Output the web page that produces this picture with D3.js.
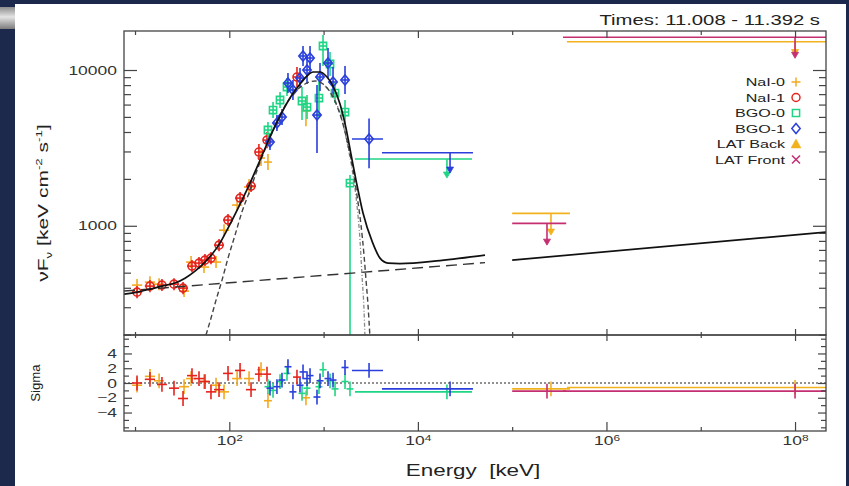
<!DOCTYPE html>
<html>
<head>
<meta charset="utf-8">
<script src="https://cdn.jsdelivr.net/npm/d3@7"></script>
<style>
  html, body { margin: 0; padding: 0; background: #1c294d; }
  svg { display: block; }
</style>
</head>
<body>
<svg id="chart" width="849" height="486"></svg>
<script>
// Spectral bins per detector: [energy keV, binLo, binHi, nuFnu, nuFnuLo, nuFnuHi, residual sigma]
const nai0 = [
  [10.5, 9.3, 11.9, 416, 381, 455, -0.3],
  [14.4, 12.7, 16.3, 435, 398, 475, 0.9],
  [18.0, 15.9, 20.3, 422, 386, 461, 0.3],
  [33.1, 29.3, 37.4, 381, 349, 416, -0.5],
  [39.3, 34.8, 44.4, 585, 535, 639, 0.6],
  [53.9, 47.7, 60.9, 543, 497, 593, 0.2],
  [72.3, 64.0, 81.7, 585, 535, 639, -0.3],
  [87.9, 77.8, 99.3, 937, 857, 1024, -1.2],
  [121, 107, 137, 1358, 1242, 1484, 0.6],
  [162, 143, 183, 1775, 1576, 1999, 0.6],
  [217, 197, 239, 2723, 2418, 3066, 1.8],
  [257, 233, 283, 2564, 2277, 2887, -2.4],
  [650, 590, 716, 5458, 4360, 6700, -2.0]
];
const nai1 = [
  [10.5, 9.3, 11.9, 375, 343, 410, 0.0],
  [14.4, 12.7, 16.3, 410, 375, 448, 0.5],
  [19.3, 17.1, 21.8, 416, 381, 455, -0.2],
  [25.9, 22.9, 29.3, 422, 386, 461, -0.7],
  [32.3, 28.6, 36.5, 398, 364, 435, -2.1],
  [40.2, 35.6, 45.4, 551, 504, 602, 1.0],
  [47.7, 42.2, 53.9, 576, 527, 630, 0.6],
  [55.2, 48.8, 62.4, 602, 551, 658, 0.2],
  [63.9, 56.5, 72.2, 620, 567, 678, -1.2],
  [77.8, 68.8, 87.9, 751, 687, 821, -0.9],
  [96.9, 85.8, 109, 1088, 995, 1189, 1.3],
  [130, 115, 147, 1506, 1378, 1646, 1.7],
  [170, 150, 192, 1798, 1645, 1965, -0.9],
  [206, 187, 227, 2974, 2641, 3349, 1.2],
  [251, 228, 277, 3548, 3151, 3995, 1.2],
  [522, 474, 575, 9016, 7780, 10450, 0.8]
];
const bgo0 = [
  [257, 236, 280, 4119, 3658, 4638, -0.5],
  [291, 267, 317, 5533, 4914, 6230, -1.0],
  [345, 317, 376, 6418, 5700, 7227, 0.2],
  [409, 376, 445, 7777, 6810, 8881, 1.3],
  [590, 542, 643, 6323, 4770, 7777, -1.4],
  [667, 612, 726, 5782, 4843, 6904, -0.7],
  [893, 820, 972, 6607, 4920, 8885, -0.5],
  [986, 905, 1074, 14260, 10600, 16790, 1.8],
  [1170, 1074, 1274, 10930, 9150, 13050, 0.3],
  [1322, 1214, 1440, 7116, 6140, 8252, -0.8],
  [1687, 1549, 1837, 5371, 4502, 6418, 0.2],
  [1905, 1749, 2075, 1879, 1, 2118, -0.8]
];
const bgo1 = [
  [270, 248, 294, 3450, 3064, 3885, -0.7],
  [320, 294, 348, 4566, 4055, 5141, -0.5],
  [362, 332, 394, 4989, 4431, 5618, 0.4],
  [419, 385, 456, 8252, 7120, 9564, 2.2],
  [473, 434, 515, 7443, 6422, 8626, -1.2],
  [562, 516, 612, 8885, 7666, 10300, -0.3],
  [605, 556, 659, 12300, 10610, 14260, 1.5],
  [667, 612, 726, 10000, 8130, 12300, 0.6],
  [718, 659, 782, 11940, 10000, 14260, 1.0],
  [851, 781, 927, 5140, 2928, 8011, -1.9],
  [916, 841, 998, 9016, 7330, 11090, 0.3],
  [1114, 1023, 1213, 11090, 8886, 13840, 0.6],
  [1259, 1156, 1371, 8374, 6710, 10450, 0.4],
  [1687, 1549, 1837, 8627, 7014, 10610, 2.1],
  [3034, 2000, 4266, 3606, 2340, 4890, 1.7]
];

// Upper limits: [binLo, binHi, nuFnu, arrowEnergy, arrowTip, residual sigma]
const bgo0Limits = [[2150, 37500, 2681, 20330, 2024, -1.2]];
const bgo1Limits = [[4160, 38400, 2943, 21930, 2179, -0.8]];
const latBackLimits = [
  [1.0e5, 4.1e5, 1201, 2.58e5, 871, -0.8],
  [3.81e5, 2.13e8, 15200, 1.0e8, 12400, -0.6]
];
const latFrontLimits = [
  [1.0e5, 3.74e5, 1036, 2.34e5, 751, -1.1],
  [3.46e5, 2.13e8, 16220, 1.0e8, 11890, -1.1]
];

// Model curves: [energy keV, nuFnu]
const totalModel = [
  [7.64, 364], [10.5, 375], [14.4, 392], [19.3, 410], [26.5, 429], [33.9, 461],
  [43.3, 512], [55.2, 585], [67.1, 668], [79.6, 774], [96.9, 966], [130, 1378],
  [166, 1879], [212, 2644], [270, 3715], [345, 5067], [440, 6607], [562, 8131],
  [667, 9152], [773, 9709], [916, 9709], [1086, 9016], [1259, 7894], [1493, 6048],
  [1726, 4242], [1950, 2888], [2206, 1966], [2618, 1207], [3293, 785], [3962, 620],
  [4819, 576], [6457, 572], [17140, 598], [51500, 648]
];
const bandModel = [
  [56.6, 199], [63.9, 255], [72.3, 333], [83.7, 448], [96.9, 620], [115, 871],
  [136, 1225], [166, 1694], [201, 2348], [245, 3203], [305, 4367], [390, 5876],
  [498, 7228], [635, 8131], [811, 8497], [986, 8131], [1170, 7228], [1386, 5876],
  [1606, 4498], [1815, 3297], [2051, 2281], [2258, 1574], [2493, 1010], [2683, 648],
  [2818, 448], [2958, 310], [3105, 190]
];
const cutoffModel = [
  [1035, 7894], [1259, 6809], [1606, 4498], [1815, 3203], [2051, 2118], [2258, 1358],
  [2432, 809], [2553, 482], [2683, 288], [2748, 190]
];
const powerLawModel = [[7.64, 381], [51500, 580]];
const latModel = [[1.0e5, 602], [2.13e8, 911]];

// Axis ticks
const energyMajorTicks = [1e2, 1e4, 1e6, 1e8];
const energyMinorTicks = [1e1, 1e3, 1e5, 1e7];
const fluxMajorTicks = [1000, 10000];
const fluxMinorTicks = [200, 300, 400, 500, 600, 700, 800, 900, 2000, 3000, 4000, 5000, 6000, 7000, 8000, 9000];
const sigmaMajorTicks = [-4, -2, 0, 2, 4];
const sigmaMinorTicks = [-6, -5, -3, -1, 1, 3, 5, 6];

const W = 849, H = 486;
const L = 124, R = 826, TOP = 31, MID = 335, BOT = 431;
const SX = 1.4;                        // wide lettering: stretch along the reading direction
const FONT = "'Liberation Sans', Arial, Helvetica, sans-serif";
const AXIS = "#444";

const svg = d3.select("#chart");
const defs = svg.append("defs");

// slide frame
svg.append("rect").attr("width", W).attr("height", H).attr("fill", "#1c294d");
const tab = defs.append("linearGradient").attr("id", "tab")
  .attr("x1", 0).attr("y1", 0).attr("x2", 0).attr("y2", 1);
tab.append("stop").attr("offset", "0%").attr("stop-color", "#8c8c8c");
tab.append("stop").attr("offset", "45%").attr("stop-color", "#e4e4e4");
tab.append("stop").attr("offset", "100%").attr("stop-color", "#7c7c7c");
svg.append("rect").attr("x", 0).attr("y", 7).attr("width", 15).attr("height", 22).attr("fill", "url(#tab)");
svg.append("rect").attr("x", 15).attr("y", 4).attr("width", 831).attr("height", 482).attr("fill", "#fff");

defs.append("clipPath").attr("id", "clipMain").append("rect")
  .attr("x", L).attr("y", TOP).attr("width", R - L).attr("height", MID - TOP);
defs.append("clipPath").attr("id", "clipRes").append("rect")
  .attr("x", L).attr("y", MID).attr("width", R - L).attr("height", BOT - MID);

const x = d3.scaleLog().domain([7.64, 2.13e8]).range([L, R]);
const y = d3.scaleLog().domain([199, 17800]).range([MID, TOP]);
const ys = d3.scaleLinear().domain([-6.5, 6.5]).range([BOT, MID]);

const detectors = [
  { name: "NaI-0", rows: nai0, limits: [], color: "#f3a91f", marker: "plus" },
  { name: "NaI-1", rows: nai1, limits: [], color: "#e5231d", marker: "circle" },
  { name: "BGO-0", rows: bgo0, limits: bgo0Limits, color: "#1fd585", marker: "square" },
  { name: "BGO-1", rows: bgo1, limits: bgo1Limits, color: "#2a3fdc", marker: "diamond" },
  { name: "LAT Back", rows: [], limits: latBackLimits, color: "#f2b21e", marker: "triangle" },
  { name: "LAT Front", rows: [], limits: latFrontLimits, color: "#c42f72", marker: "cross" }
];

function markerPath(kind) {
  switch (kind) {
    case "circle": return d3.symbol(d3.symbolCircle, 50)();
    case "square": return "M-3.6,-3.6H3.6V3.6H-3.6Z";
    case "diamond": return "M0,-5L4.2,0L0,5L-4.2,0Z";
    case "triangle": return "M-5,4L5,4L0,-5Z";
    case "cross": return "M-4,-4L4,4M-4,4L4,-4";
    default: return "M-4.5,0H4.5M0,-4.5V4.5";
  }
}

const mainG = svg.append("g").attr("clip-path", "url(#clipMain)");
const resG = svg.append("g").attr("clip-path", "url(#clipRes)");

// zero line of the residual panel
resG.append("line").attr("x1", L).attr("x2", R).attr("y1", ys(0)).attr("y2", ys(0))
  .attr("stroke", "#222").attr("stroke-width", 1).attr("stroke-dasharray", "2,2");

// data points, error bars and upper limits
detectors.forEach(det => {
  const g = mainG.append("g").attr("stroke", det.color).attr("stroke-width", 1.6).attr("fill", "none");
  g.selectAll("line.xbar").data(det.rows).join("line").attr("class", "xbar")
    .attr("x1", d => x(d[1])).attr("x2", d => x(d[2]))
    .attr("y1", d => y(d[3])).attr("y2", d => y(d[3]));
  g.selectAll("line.ybar").data(det.rows).join("line").attr("class", "ybar")
    .attr("x1", d => x(d[0])).attr("x2", d => x(d[0]))
    .attr("y1", d => y(Math.max(d[4], 1))).attr("y2", d => y(d[5]));
  if (det.marker !== "plus") {
    g.selectAll("path.mk").data(det.rows).join("path").attr("class", "mk")
      .attr("d", markerPath(det.marker))
      .attr("transform", d => `translate(${x(d[0])},${y(d[3])})`);
  }
  g.selectAll("line.ul").data(det.limits).join("line").attr("class", "ul")
    .attr("x1", d => x(d[0])).attr("x2", d => x(d[1]))
    .attr("y1", d => y(d[2])).attr("y2", d => y(d[2]));
  g.selectAll("line.arrow").data(det.limits).join("line").attr("class", "arrow")
    .attr("x1", d => x(d[3])).attr("x2", d => x(d[3]))
    .attr("y1", d => y(d[2])).attr("y2", d => y(d[4]) - 3);
  g.selectAll("path.head").data(det.limits).join("path").attr("class", "head")
    .attr("d", "M-3.5,-6L3.5,-6L0,0Z").attr("fill", det.color).attr("stroke-width", 0.8)
    .attr("transform", d => `translate(${x(d[3])},${y(d[4])})`);

  const r = resG.append("g").attr("stroke", det.color).attr("stroke-width", 1.6);
  r.selectAll("line.xbar").data(det.rows).join("line").attr("class", "xbar")
    .attr("x1", d => x(d[1])).attr("x2", d => x(d[2]))
    .attr("y1", d => ys(d[6])).attr("y2", d => ys(d[6]));
  r.selectAll("line.ybar").data(det.rows).join("line").attr("class", "ybar")
    .attr("x1", d => x(d[0])).attr("x2", d => x(d[0]))
    .attr("y1", d => ys(d[6] - 1)).attr("y2", d => ys(d[6] + 1));
  r.selectAll("line.ul").data(det.limits).join("line").attr("class", "ul")
    .attr("x1", d => x(d[0])).attr("x2", d => x(d[1]))
    .attr("y1", d => ys(d[5])).attr("y2", d => ys(d[5]));
  r.selectAll("line.ulbar").data(det.limits).join("line").attr("class", "ulbar")
    .attr("x1", d => x(d[3])).attr("x2", d => x(d[3]))
    .attr("y1", d => ys(d[5] - 1)).attr("y2", d => ys(d[5] + 1));
});

// model curves
const curve = d3.line().x(d => x(d[0])).y(d => y(d[1])).curve(d3.curveMonotoneX);
const models = [
  { data: powerLawModel, stroke: "#333", width: 1.4, dash: "11,6" },
  { data: cutoffModel, stroke: "#8a8a8a", width: 1.3, dash: "4,2,1,2" },
  { data: bandModel, stroke: "#444", width: 1.4, dash: "5,3" },
  { data: totalModel, stroke: "#111", width: 1.7, dash: null },
  { data: latModel, stroke: "#111", width: 1.7, dash: null }
];
models.forEach(m => {
  mainG.append("path").datum(m.data).attr("d", curve)
    .attr("fill", "none").attr("stroke", m.stroke).attr("stroke-width", m.width)
    .attr("stroke-dasharray", m.dash);
});

// axes
function styleAxis(g) {
  g.select(".domain").remove();
  g.selectAll(".tick line").attr("stroke", AXIS).attr("stroke-width", 1.2);
  g.selectAll(".tick text").attr("fill", "#333").attr("transform", `scale(${SX},1)`);
  g.attr("font-family", FONT);
}
function axis(gen, tr, values, size, fontSize, fmt) {
  const g = svg.append("g").attr("transform", tr);
  g.call(gen.tickValues(values).tickSize(size).tickPadding(5)
    .tickFormat(fmt || (() => "")));
  g.attr("font-size", fontSize);
  styleAxis(g);
  return g;
}
const minus = d => d < 0 ? "\u2212" + (-d) : String(d);

// flux axis
axis(d3.axisLeft(y), `translate(${L},0)`, fluxMajorTicks, -13, 12.5, d3.format("d"));
axis(d3.axisLeft(y), `translate(${L},0)`, fluxMinorTicks, -7, 12);
axis(d3.axisRight(y), `translate(${R},0)`, fluxMajorTicks, -13, 12);
axis(d3.axisRight(y), `translate(${R},0)`, fluxMinorTicks, -7, 12);

// sigma axis
axis(d3.axisLeft(ys), `translate(${L},0)`, sigmaMajorTicks, -8, 12.5, minus);
axis(d3.axisLeft(ys), `translate(${L},0)`, sigmaMinorTicks, -5, 12);
axis(d3.axisRight(ys), `translate(${R},0)`, sigmaMajorTicks, -8, 12);
axis(d3.axisRight(ys), `translate(${R},0)`, sigmaMinorTicks, -5, 12);

// energy axes: top, shared middle, bottom
axis(d3.axisTop(x), `translate(0,${TOP})`, energyMajorTicks, -7, 12);
axis(d3.axisTop(x), `translate(0,${TOP})`, energyMinorTicks, -4, 12);
axis(d3.axisBottom(x), `translate(0,${MID})`, energyMajorTicks, -6, 12);
axis(d3.axisBottom(x), `translate(0,${MID})`, energyMinorTicks, -3, 12);
axis(d3.axisTop(x), `translate(0,${MID})`, energyMajorTicks, -6, 12);
axis(d3.axisTop(x), `translate(0,${MID})`, energyMinorTicks, -3, 12);
const xb = axis(d3.axisBottom(x), `translate(0,${BOT})`, energyMajorTicks, -9, 12.5, d => "10");
xb.selectAll(".tick text").each(function (d) {
  d3.select(this).append("tspan").attr("dy", "-0.45em").attr("font-size", "8.5px")
    .text(Math.round(Math.log10(d)));
});
axis(d3.axisBottom(x), `translate(0,${BOT})`, energyMinorTicks, -4, 12);

// panel frames
[[TOP, MID], [MID, BOT]].forEach(([t, b]) => {
  svg.append("rect").attr("x", L).attr("y", t).attr("width", R - L).attr("height", b - t)
    .attr("fill", "none").attr("stroke", AXIS).attr("stroke-width", 1.3);
});

// lettering
function label(tx, ty, text, size, anchor) {
  const g = svg.append("g").attr("transform", `translate(${tx},${ty}) scale(${SX},1)`);
  return g.append("text").attr("text-anchor", anchor).attr("font-family", FONT)
    .attr("font-size", size).attr("fill", "#222").text(text);
}
label(820, 25, "Times: 11.008 - 11.392 s", 14.5, "end");
label(473, 476, "Energy  [keV]", 16, "middle").attr("xml:space", "preserve").style("white-space", "pre");

const yl = svg.append("text").attr("font-family", FONT).attr("font-size", 15).attr("fill", "#222")
  .attr("text-anchor", "middle")
  .attr("transform", `translate(48,203) rotate(-90) scale(${SX},1)`);
yl.append("tspan").text("\u03bdF");
yl.append("tspan").attr("font-size", 9.5).attr("dy", 4).text("\u03bd");
yl.append("tspan").attr("dy", -4).text(" [keV cm");
yl.append("tspan").attr("font-size", 9.5).attr("dy", -6).text("-2");
yl.append("tspan").attr("dy", 6).text(" s");
yl.append("tspan").attr("font-size", 9.5).attr("dy", -6).text("-1");
yl.append("tspan").attr("dy", 6).text("]");

svg.append("text").attr("font-family", FONT).attr("font-size", 12).attr("fill", "#222")
  .attr("text-anchor", "middle")
  .attr("transform", `translate(40,383) rotate(-90) scale(1.1,1)`).text("Sigma");

// legend
detectors.forEach((det, i) => {
  const ly = 82 + i * 15.5;
  label(785, ly + 4, det.name, 11.5, "end");
  const filled = det.marker === "triangle";
  svg.append("path").attr("d", markerPath(det.marker))
    .attr("transform", `translate(796,${ly})`)
    .attr("fill", filled ? det.color : "none")
    .attr("stroke", det.color).attr("stroke-width", filled ? 0.5 : 1.5);
});
</script>
</body>
</html>
